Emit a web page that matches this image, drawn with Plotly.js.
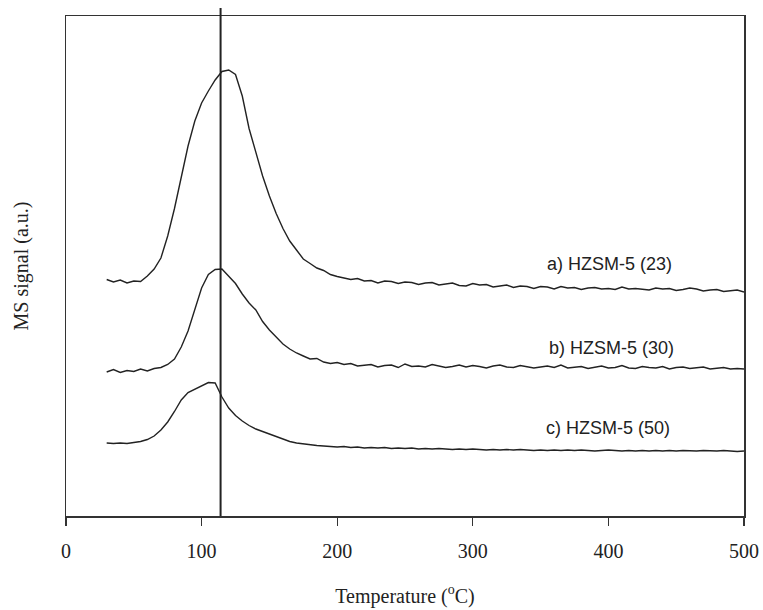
<!DOCTYPE html>
<html>
<head>
<meta charset="utf-8">
<script src="https://cdn.plot.ly/plotly-3.0.1.min.js"></script>
<style>html,body{margin:0;padding:0;background:#fff;}#chart{width:763px;height:610px;}</style>
</head>
<body>
<div id="chart"></div>
<script>
const temperature = [30,35,40,45,50,55,60,65,70,75,80,85,90,95,100,105,110,115,120,125,130,135,140,145,150,155,160,165,170,175,180,185,190,195,200,205,210,215,220,225,230,235,240,245,250,255,260,265,270,275,280,285,290,295,300,305,310,315,320,325,330,335,340,345,350,355,360,365,370,375,380,385,390,395,400,405,410,415,420,425,430,435,440,445,450,455,460,465,470,475,480,485,490,495,500];

const signalA = [47.3,46.8,47.2,46.6,47.0,46.9,48.0,49.4,51.6,56.0,61.5,67.5,74.0,79.0,82.6,85.0,87.2,88.9,89.2,88.3,84.0,77.5,72.5,68.0,64.0,60.5,57.5,55.0,53.2,51.4,50.5,49.6,49.1,48.3,47.9,47.6,47.3,
  47.5,47.0,47.1,46.6,47.0,46.9,46.5,46.8,46.7,46.3,
  46.6,46.7,46.2,46.4,46.6,46.1,46.0,46.5,46.2,46.3,
  45.8,46.0,46.2,45.7,46.0,45.9,45.5,45.9,45.8,45.4,
  45.9,45.6,45.7,45.3,45.6,45.7,45.4,45.5,45.3,45.8,
  45.4,45.5,45.3,45.2,45.6,45.4,45.5,45.1,45.3,45.6,
  45.4,45.0,45.2,45.3,44.9,45.1,45.2,44.8];

const signalB = [28.8,29.3,28.7,29.1,28.9,29.4,29.0,29.5,29.7,30.3,31.4,33.8,37.0,41.5,45.6,48.3,49.3,49.4,48.0,46.5,44.4,42.6,41.2,38.9,37.2,35.8,34.4,33.4,32.6,32.0,31.4,31.5,30.8,30.5,
  30.7,30.3,30.5,30.0,30.2,30.3,29.8,30.1,30.2,29.7,
  30.4,29.9,30.0,29.8,30.3,30.0,29.7,29.9,30.2,29.8,
  30.1,29.9,29.6,30.0,30.2,29.8,29.7,30.1,29.9,29.6,
  29.8,30.0,29.7,30.2,29.6,29.8,29.9,29.5,29.8,30.0,
  29.6,29.7,30.1,29.6,29.5,29.9,29.7,29.6,29.9,29.4,
  29.7,29.8,29.5,29.6,29.8,29.4,29.6,29.7,29.4,29.5,
  29.4];

const signalC = [14.6,14.5,14.6,14.5,14.7,14.9,15.3,16.0,17.2,18.8,20.9,23.2,24.7,25.4,26.0,26.7,26.6,23.8,21.6,20.1,19.0,18.1,17.4,16.9,16.4,15.8,15.3,14.9,14.6,14.4,14.2,14.1,14.0,13.9,13.8,13.9,13.7,13.8,13.6,13.7,13.6,13.7,13.5,13.6,13.5,13.6,13.4,13.5,13.4,13.5,13.4,13.3,13.4,13.3,13.4,13.3,13.2,13.3,13.2,13.3,13.2,13.3,13.2,13.1,13.2,13.1,13.2,13.1,13.2,13.1,13.2,13.1,13.0,13.1,13.2,13.1,13.0,13.1,13.0,13.1,13.0,13.1,13.0,13.1,13.0,13.1,13.0,13.0,13.1,13.0,13.0,13.1,13.0,12.9,13.0];

const seriesLabels = ["a) HZSM-5 (23)", "b) HZSM-5 (30)", "c) HZSM-5 (50)"];
const labelX = [401, 402, 400];
const labelY = [50.4, 33.6, 17.6];
const markerTemperature = 114;
const xTicks = [0, 100, 200, 300, 400, 500];

const lineStyle = {color: '#222', width: 1.4};
const traces = [signalA, signalB, signalC].map((s, i) => ({
  x: temperature, y: s, type: 'scatter', mode: 'lines',
  line: lineStyle, name: seriesLabels[i], showlegend: false, hoverinfo: 'none'
}));

const serif = 'Liberation Serif, Times New Roman, serif';
const layout = {
  width: 763, height: 610,
  margin: {l: 66, r: 19, t: 16, b: 94},
  paper_bgcolor: '#fff', plot_bgcolor: '#fff',
  showlegend: false,
  xaxis: {
    range: [0, 500], tickvals: xTicks, ticktext: xTicks.map(String),
    ticks: 'outside', ticklen: 8, tickwidth: 1.3, tickcolor: '#333',
    showline: true, linecolor: '#333', linewidth: 1.5, mirror: true,
    showgrid: false, zeroline: false,
    tickfont: {family: serif, size: 20, color: '#222'},
    ticklabelstandoff: 8,
    title: {text: 'Temperature (<sup>o</sup>C)', font: {family: serif, size: 20, color: '#222'}, standoff: 28}
  },
  yaxis: {
    range: [0, 100], showticklabels: false, ticks: '',
    showline: true, linecolor: '#333', linewidth: 1.5, mirror: true,
    showgrid: false, zeroline: false,
    title: {text: 'MS signal (a.u.)', font: {family: serif, size: 20, color: '#222'}, standoff: 30}
  },
  shapes: [{
    type: 'line', xref: 'x', yref: 'paper',
    x0: markerTemperature, x1: markerTemperature, y0: 0, y1: 1.016,
    line: {color: '#222', width: 2}
  }],
  annotations: seriesLabels.map((t, i) => ({
    x: labelX[i], y: labelY[i], xref: 'x', yref: 'y', text: t, showarrow: false,
    font: {family: 'Liberation Sans, Arial, sans-serif', size: 18, color: '#222'},
    xanchor: 'center', yanchor: 'middle'
  }))
};

Plotly.newPlot('chart', traces, layout, {staticPlot: true, displayModeBar: false});
</script>
</body>
</html>
